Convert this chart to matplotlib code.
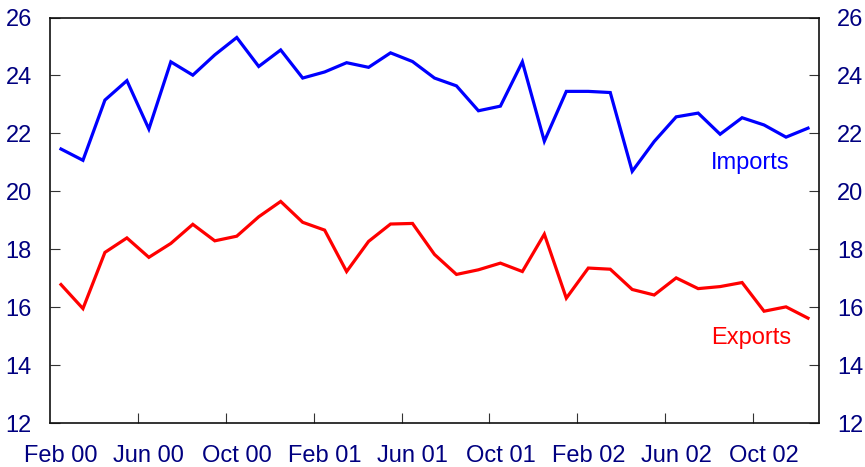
import matplotlib
matplotlib.use("Agg")
import matplotlib.pyplot as plt
import numpy as np

plt.rcParams['font.family'] = ['Liberation Sans', 'DejaVu Sans']

# Monthly data Feb 2000 .. Dec 2002 (35 months)
imports = [21.46, 21.07, 23.15, 23.82, 22.15, 24.47, 24.01, 24.71, 25.31, 24.31,
           24.88, 23.91, 24.12, 24.44, 24.28, 24.78, 24.48, 23.91, 23.64, 22.78,
           22.94, 24.47, 21.73, 23.45, 23.45, 23.41, 20.69, 21.72, 22.57, 22.70,
           21.97, 22.54, 22.29, 21.87, 22.18]
exports = [16.78, 15.95, 17.89, 18.39, 17.72, 18.20, 18.86, 18.29, 18.45, 19.12,
           19.65, 18.93, 18.66, 17.23, 18.27, 18.87, 18.89, 17.82, 17.13, 17.29,
           17.52, 17.23, 18.52, 16.31, 17.35, 17.31, 16.61, 16.42, 17.01, 16.64,
           16.71, 16.85, 15.86, 16.01, 15.62]
tick_labels = ['Feb 00', 'Jun 00', 'Oct 00', 'Feb 01', 'Jun 01', 'Oct 01',
               'Feb 02', 'Jun 02', 'Oct 02']
y_ticks = [12, 14, 16, 18, 20, 22, 24, 26]

navy = '#000080'
fs = 17

fig = plt.figure(figsize=(8.65, 4.67), dpi=100)
ax = fig.add_axes([0.0578, 0.0942, 0.9468 - 0.0578, 0.9625 - 0.0942])

x = np.arange(len(imports))
ax.plot(x, imports, color='#0000FF', lw=2.3, solid_joinstyle='miter')
ax.plot(x, exports, color='#FF0000', lw=2.3, solid_joinstyle='miter')

ax.set_xlim(-0.5, len(imports) - 0.5)
ax.set_ylim(12, 26)

# major ticks at month boundaries every 4 months, labels at month centres
label_pos = np.arange(0, len(imports), 4)
ax.set_xticks(label_pos[1:] - 0.5)
ax.set_xticklabels([])
ax.set_xticks(label_pos, minor=True)
ax.set_xticklabels(tick_labels, minor=True)
ax.tick_params(axis='x', which='major', direction='in', length=7, width=0.8,
               color='#333333')
ax.tick_params(axis='x', which='minor', length=0, pad=16, labelsize=fs,
               labelcolor=navy)

ax.set_yticks(y_ticks)
ax.set_yticklabels([str(v) for v in y_ticks])
ax.tick_params(axis='y', direction='in', length=7, width=0.8, color='#333333',
               labelsize=fs, labelcolor=navy, pad=13, right=True, labelright=True)

for s in ax.spines.values():
    s.set_linewidth(1.2)
    s.set_color('#111111')

ax.text(29.6, 20.96, 'Imports', color='#0000FF', fontsize=fs, ha='left', va='center')
ax.text(29.6, 14.95, 'Exports', color='#FF0000', fontsize=fs, ha='left', va='center')

fig.savefig('out.png', dpi=100)
